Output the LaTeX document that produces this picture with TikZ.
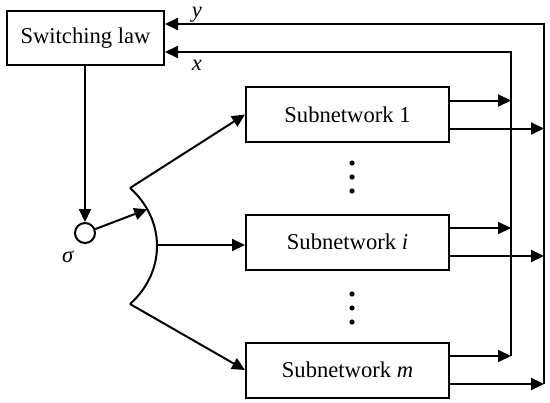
\documentclass[tikz,border=0pt]{standalone}
\usepackage{fontspec}
\setmainfont{Liberation Serif}
\usetikzlibrary{arrows.meta}

\begin{document}
\begin{tikzpicture}[x=0.5pt,y=-0.5pt,line width=1pt,
  every node/.style={font=\fontsize{11.3}{13}\selectfont},
  block/.style={draw,minimum width=101.5pt,minimum height=27.5pt,inner sep=0pt},
  arr/.style={-{Triangle[length=6.5pt,width=6pt]}}]
\useasboundingbox (0,0) rectangle (550,402);
\node[block,minimum width=78.5pt,minimum height=27pt] (law) at (85.5,38) {Switching law};
\node[block] (sub1) at (347.5,114.5) {Subnetwork 1};
\node[block] (subi) at (347.5,242) {Subnetwork \textit{i}};
\node[block] (subm) at (347.5,370) {Subnetwork \textit{m}};
\node[draw,circle,minimum size=10pt,inner sep=0pt] (sig) at (85,233) {};
\node (siglab) at (68,257) {\textit{σ}};
% switch
\coordinate (top) at (130,188);
\coordinate (mid) at (157,245);
\coordinate (bot) at (130,304);
\draw (top) .. controls (166,220) and (166,272) .. (bot) coordinate[pos=0.2] (hit);
\draw[arr] (law.south -| sig.north) -- (sig.north);
\draw[arr] (sig) -- (hit);
\draw[arr] (top) -- (sub1.west);
\draw[arr] (mid) -- (mid -| subi.west);
\draw[arr] (bot) -- (subm.west);
% dots
\foreach \y in {163,177,191,294,308,322} \fill (352,\y) circle (1.3pt);
% feedback
\coordinate (xbus) at (511,52);
\coordinate (ybus) at (544,24);
\foreach \n in {sub1,subi,subm} {
  \draw[arr] ([yshift=7pt]\n.east) -- ([yshift=7pt]\n.east -| xbus);
  \draw[arr] ([yshift=-7pt]\n.east) -- ([yshift=-7pt]\n.east -| ybus);
}
\draw[arr] ([yshift=7pt]subm.east -| xbus) -- (xbus) -- (xbus -| law.east);
\draw[arr] ([yshift=-7pt]subm.east -| ybus) -- (ybus) -- (ybus -| law.east);
\node[anchor=base] (ylab) at (197,17) {\textit{y}};
\node[anchor=base] (xlab) at (197,70) {\textit{x}};
\end{tikzpicture}
\end{document}
